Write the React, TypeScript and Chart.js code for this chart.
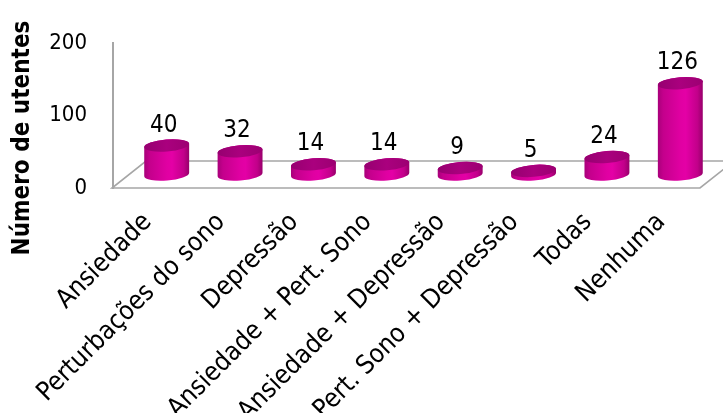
import React, { useEffect, useRef } from "react";
import { Chart, registerables } from "chart.js";

Chart.register(...registerables);

// Categories of complaints and number of patients in each
const categories = [
  "Ansiedade",
  "Perturbações do sono",
  "Depressão",
  "Ansiedade + Pert. Sono",
  "Ansiedade + Depressão",
  "Pert. Sono + Depressão",
  "Todas",
  "Nenhuma",
];
const utentes = [40, 32, 14, 14, 9, 5, 24, 126];
const yTicks = [0, 100, 200];
const yTitle = "Número de utentes";

const FONT = '"DejaVu Sans Condensed", "DejaVu Sans", sans-serif';

// Full depth of the 3D floor (front edge to back edge)
const DEPTH_X = 34;
const DEPTH_Y = 27;
const ELLIPSE_RY = 6;
const ELLIPSE_ROT = -0.08;

const cylinderPlugin = {
  id: "cylinders",
  beforeDatasetsDraw(chart: any) {
    const { ctx, chartArea: a } = chart;
    ctx.save();
    ctx.beginPath();
    ctx.moveTo(a.left - 1, a.bottom);
    ctx.lineTo(a.right, a.bottom);
    ctx.lineTo(a.right + DEPTH_X, a.bottom - DEPTH_Y);
    ctx.lineTo(a.left - 1 + DEPTH_X, a.bottom - DEPTH_Y);
    ctx.closePath();
    ctx.fillStyle = "#ffffff";
    ctx.fill();
    ctx.strokeStyle = "#a6a6a6";
    ctx.lineWidth = 1.6;
    ctx.stroke();
    ctx.restore();
  },
  afterDatasetsDraw(chart: any) {
    const { ctx } = chart;
    const meta = chart.getDatasetMeta(0);
    const values = chart.data.datasets[0].data as number[];
    meta.data.forEach((bar: any, i: number) => {
      const { x, y, base, width } = bar.getProps(["x", "y", "base", "width"], true);
      const cx = x + DEPTH_X / 2;
      const top = y - DEPTH_Y / 2;
      const bottom = base - DEPTH_Y / 2;
      const rx = width / 2;
      const ry = ELLIPSE_RY;

      ctx.save();
      // side of the cylinder
      const g = ctx.createLinearGradient(cx - rx, 0, cx + rx, 0);
      g.addColorStop(0, "#a8007a");
      g.addColorStop(0.12, "#c4008c");
      g.addColorStop(0.5, "#e000a2");
      g.addColorStop(0.62, "#e400a6");
      g.addColorStop(0.88, "#c2008a");
      g.addColorStop(1, "#96006a");
      ctx.beginPath();
      ctx.ellipse(cx, bottom, rx, ry, ELLIPSE_ROT, 0, Math.PI, false);
      ctx.ellipse(cx, top, rx, ry, ELLIPSE_ROT, Math.PI, Math.PI * 2, false);
      ctx.closePath();
      ctx.fillStyle = g;
      ctx.fill();

      // top cap
      const gt = ctx.createLinearGradient(cx - rx, 0, cx + rx, 0);
      gt.addColorStop(0, "#960070");
      gt.addColorStop(0.5, "#aa007e");
      gt.addColorStop(1, "#9c0072");
      ctx.beginPath();
      ctx.ellipse(cx, top, rx, ry, ELLIPSE_ROT, 0, Math.PI * 2);
      ctx.fillStyle = gt;
      ctx.fill();

      // value label
      ctx.fillStyle = "#000000";
      ctx.font = `24px ${FONT}`;
      ctx.textAlign = "center";
      ctx.textBaseline = "alphabetic";
      ctx.fillText(String(values[i]), cx - 3, top - 14);
      ctx.restore();
    });
  },
  afterDraw(chart: any) {
    const { ctx } = chart;
    ctx.save();
    ctx.translate(23, 138);
    ctx.rotate(-Math.PI / 2);
    ctx.font = `bold 24px ${FONT}`;
    ctx.fillStyle = "#000000";
    ctx.textAlign = "center";
    ctx.textBaseline = "middle";
    ctx.fillText(yTitle, 0, 0);
    ctx.restore();
  },
};

export default function App() {
  const canvasRef = useRef<HTMLCanvasElement | null>(null);

  useEffect(() => {
    if (!canvasRef.current) return;
    const chart = new Chart(canvasRef.current, {
      type: "bar",
      data: {
        labels: categories,
        datasets: [
          {
            data: utentes,
            backgroundColor: "rgba(0,0,0,0)",
            borderWidth: 0,
            barPercentage: 0.614,
            categoryPercentage: 1,
          },
        ],
      },
      options: {
        responsive: false,
        animation: false,
        devicePixelRatio: 1,
        layout: { padding: { top: 43, right: 23, left: 0, bottom: 0 } },
        plugins: {
          legend: { display: false },
          tooltip: { enabled: false },
        },
        scales: {
          x: {
            grid: { display: false, drawTicks: false },
            border: { display: false },
            ticks: {
              autoSkip: false,
              minRotation: 45,
              maxRotation: 45,
              padding: 19,
              labelOffset: -2,
              color: "#000000",
              font: { family: FONT, size: 26 },
            },
            afterFit(scale: any) {
              scale.height = 225;
            },
          },
          y: {
            min: 0,
            max: 200,
            grid: { display: false, drawTicks: false },
            border: { display: true, color: "#a6a6a6", width: 2 },
            ticks: {
              padding: 26,
              color: "#000000",
              font: { family: FONT, size: 22 },
            },
            afterBuildTicks(scale: any) {
              scale.ticks = yTicks.map((v) => ({ value: v }));
            },
            afterFit(scale: any) {
              scale.width = 113;
            },
          },
        },
      },
      plugins: [cylinderPlugin],
    });
    return () => chart.destroy();
  }, []);

  return (
    <div style={{ position: "absolute", left: 0, top: 0, width: 723, height: 413, background: "#ffffff" }}>
      <canvas ref={canvasRef} width={723} height={413} style={{ display: "block" }} />
    </div>
  );
}
